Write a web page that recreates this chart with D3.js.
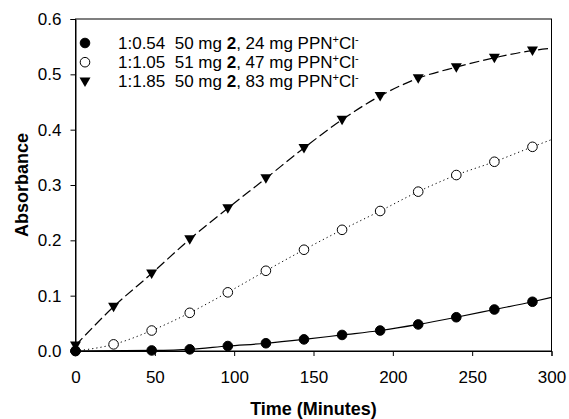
<!DOCTYPE html>
<html>
<head>
<meta charset="utf-8">
<script src="https://cdn.jsdelivr.net/npm/d3@7"></script>
<style>
  html, body { margin: 0; padding: 0; background: #ffffff; }
  svg { display: block; font-family: "Liberation Sans", Arial, sans-serif; }
</style>
</head>
<body>
<div id="chart"></div>
<script>
// Data
const times = [0, 24, 48, 72, 96, 120, 144, 168, 192, 216, 240, 264, 288];
const filledTimes = [0, 48, 72, 96, 120, 144, 168, 192, 216, 240, 264, 288];
const filledValues = [0.0, 0.001, 0.003, 0.009, 0.014, 0.021, 0.029, 0.037, 0.048, 0.061, 0.075, 0.089];
const openValues = [0.0, 0.012, 0.037, 0.069, 0.106, 0.145, 0.183, 0.219, 0.253, 0.288, 0.318, 0.342, 0.369];
const triValues = [0.01, 0.08, 0.14, 0.202, 0.258, 0.312, 0.367, 0.418, 0.461, 0.493, 0.513, 0.530, 0.543];

// Fit curves: endpoint values at 300 min
const fitEnd = { filled: 0.097, open: 0.382, tri: 0.547 };

const xTicks = [0, 50, 100, 150, 200, 250, 300];
const yTicks = [0.0, 0.1, 0.2, 0.3, 0.4, 0.5, 0.6];

const legendRows = [
  { ratio: '1:0.54', a: '50', b: '24', type: 'filled' },
  { ratio: '1:1.05', a: '51', b: '47', type: 'open' },
  { ratio: '1:1.85', a: '50', b: '83', type: 'tri' }
];

const width = 569, height = 419;
const margin = { left: 75.5, right: 17.5, top: 19, bottom: 68 };

const svg = d3.select('#chart')
  .append('svg')
  .attr('width', width)
  .attr('height', height);

const x = d3.scaleLinear().domain([0, 300]).range([margin.left, width - margin.right]);
const y = d3.scaleLinear().domain([0, 0.6]).range([height - margin.bottom, margin.top]);

// Frame
svg.append('rect')
  .attr('x', x(0))
  .attr('y', y(0.6))
  .attr('width', x(300) - x(0))
  .attr('height', y(0) - y(0.6))
  .attr('fill', 'none')
  .attr('stroke', '#000')
  .attr('stroke-width', 1);

// Axes
const xAxis = svg.append('g')
  .attr('transform', `translate(0,${y(0)})`)
  .call(d3.axisBottom(x).tickValues(xTicks).tickSize(5).tickPadding(15).tickFormat(d3.format('d')));
const yAxis = svg.append('g')
  .attr('transform', `translate(${x(0)},0)`)
  .call(d3.axisLeft(y).tickValues(yTicks).tickSize(5).tickPadding(9).tickFormat(d3.format('.1f')));

[xAxis, yAxis].forEach(a => {
  a.select('.domain').attr('stroke', '#000');
  a.selectAll('.tick line').attr('stroke', '#000');
  a.selectAll('.tick text')
    .attr('fill', '#000')
    .attr('font-size', '17px')
    .attr('font-family', '"Liberation Sans", Arial, sans-serif');
});

// Axis titles
svg.append('text')
  .attr('x', (x(0) + x(300)) / 2)
  .attr('y', 415)
  .attr('text-anchor', 'middle')
  .attr('font-size', '18px')
  .attr('font-weight', 'bold')
  .text('Time (Minutes)');

svg.append('text')
  .attr('transform', `translate(28,${(y(0) + y(0.6)) / 2}) rotate(-90)`)
  .attr('text-anchor', 'middle')
  .attr('font-size', '18px')
  .attr('font-weight', 'bold')
  .text('Absorbance');

// Fit lines
const line = d3.line()
  .x(d => x(d[0]))
  .y(d => y(d[1]))
  .curve(d3.curveMonotoneX);

const filledPts = filledTimes.map((t, i) => [t, filledValues[i]]);
const openPts = times.map((t, i) => [t, openValues[i]]);
const triPts = times.map((t, i) => [t, triValues[i]]);

const plot = svg.append('g');

plot.append('path')
  .datum(filledPts.concat([[300, fitEnd.filled]]))
  .attr('d', line)
  .attr('fill', 'none')
  .attr('stroke', '#000')
  .attr('stroke-width', 1.2);

plot.append('path')
  .datum(openPts.concat([[300, fitEnd.open]]))
  .attr('d', line)
  .attr('fill', 'none')
  .attr('stroke', '#000')
  .attr('stroke-width', 1)
  .attr('stroke-dasharray', '1.2,3');

plot.append('path')
  .datum(triPts.concat([[300, fitEnd.tri]]))
  .attr('d', line)
  .attr('fill', 'none')
  .attr('stroke', '#000')
  .attr('stroke-width', 1.2)
  .attr('stroke-dasharray', '10,4');

// Markers
const triPath = 'M-5.5,-4 L5.5,-4 L0,5.5 Z';

function drawMarker(sel, type) {
  if (type === 'tri') {
    sel.append('path').attr('d', triPath).attr('fill', '#000');
  } else {
    sel.append('circle')
      .attr('r', 4.8)
      .attr('fill', type === 'filled' ? '#000' : '#fff')
      .attr('stroke', '#000')
      .attr('stroke-width', 1);
  }
}

plot.selectAll('.m-open')
  .data(openPts)
  .join('g')
  .attr('class', 'm-open')
  .attr('transform', d => `translate(${x(d[0])},${y(d[1])})`)
  .each(function() { drawMarker(d3.select(this), 'open'); });

plot.selectAll('.m-filled')
  .data(filledPts)
  .join('g')
  .attr('class', 'm-filled')
  .attr('transform', d => `translate(${x(d[0])},${y(d[1])})`)
  .each(function() { drawMarker(d3.select(this), 'filled'); });

plot.selectAll('.m-tri')
  .data(triPts)
  .join('g')
  .attr('class', 'm-tri')
  .attr('transform', d => `translate(${x(d[0])},${y(d[1])})`)
  .each(function() { drawMarker(d3.select(this), 'tri'); });

// Legend
const legend = svg.append('g');
legendRows.forEach((row, i) => {
  const ly = 43 + i * 19.2;
  drawMarker(legend.append('g').attr('transform', `translate(85,${ly})`), row.type);
  const t = legend.append('text')
    .attr('x', 118)
    .attr('y', ly + 6)
    .attr('font-size', '17px')
    .attr('xml:space', 'preserve');
  t.append('tspan').text(`${row.ratio}  ${row.a} mg `);
  t.append('tspan').attr('font-weight', 'bold').text('2');
  t.append('tspan').text(`, ${row.b} mg PPN`);
  t.append('tspan').attr('font-size', '11px').attr('dy', -6).text('+');
  t.append('tspan').attr('dy', 6).text('Cl');
  t.append('tspan').attr('font-size', '11px').attr('dy', -6).text('-');
});
</script>
</body>
</html>
